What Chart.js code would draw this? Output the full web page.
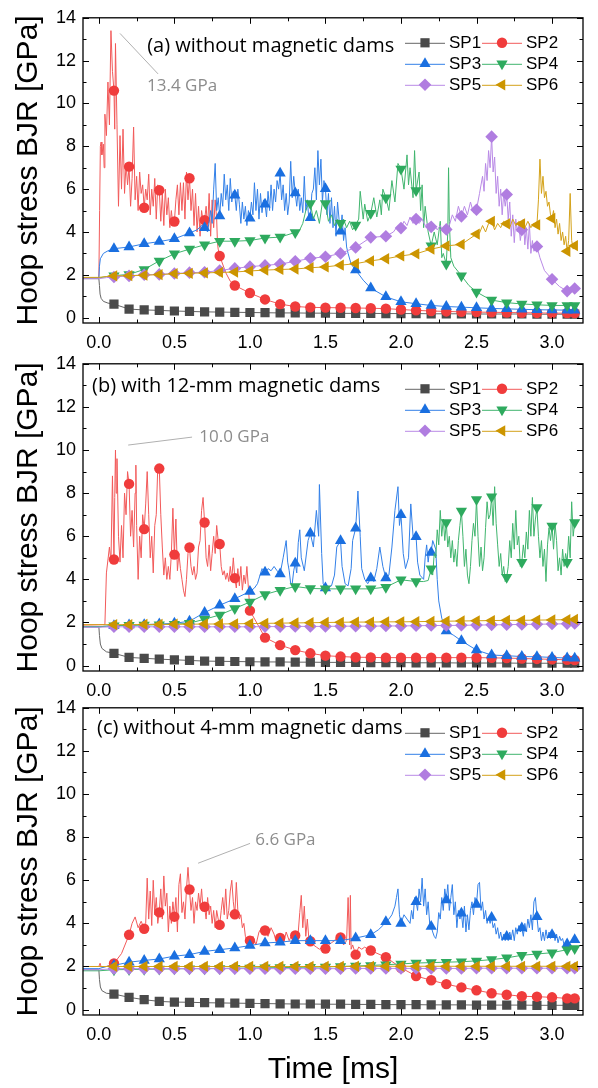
<!DOCTYPE html>
<html>
<head>
<meta charset="utf-8">
<title>Hoop stress BJR</title>
<script src="https://cdn.jsdelivr.net/npm/chart.js@4.4.1/dist/chart.umd.min.js"></script>
<style>
  body { margin: 0; background: #fff; }
  .panel { position: absolute; left: 0; width: 598px; }
</style>
</head>
<body>
<div class="panel" style="top:0;height:350px"><canvas id="chartA"></canvas></div>
<div class="panel" style="top:346px;height:352px"><canvas id="chartB"></canvas></div>
<div class="panel" style="top:690px;height:398px"><canvas id="chartC"></canvas></div>
<script>
// ---- data (time in ms, stress in GPa) ----
const seriesNames = ['SP1', 'SP2', 'SP3', 'SP4', 'SP5', 'SP6'];
const xMajorTicks = [0, 0.5, 1.0, 1.5, 2.0, 2.5, 3.0];
const xMinorTicks = [0.25, 0.75, 1.25, 1.75, 2.25, 2.75];
const yMajorTicks = [0, 2, 4, 6, 8, 10, 12, 14];
const yMinorTicks = [1, 3, 5, 7, 9, 11, 13];
const markTimes = [0.1, 0.2, 0.3, 0.4, 0.5, 0.6, 0.7, 0.8, 0.9, 1.0, 1.1, 1.2, 1.3, 1.4, 1.5, 1.6,
  1.7, 1.8, 1.9, 2.0, 2.1, 2.2, 2.3, 2.4, 2.5, 2.6, 2.7, 2.8, 2.9, 3.0, 3.1, 3.15];

// (a) without magnetic dams: symbol values at markTimes
const aMarks1 = [0.63, 0.40, 0.36, 0.34, 0.31, 0.29, 0.27, 0.26, 0.25, 0.24, 0.23, 0.22, 0.22, 0.21, 0.21, 0.20,
  0.20, 0.20, 0.19, 0.19, 0.19, 0.18, 0.18, 0.18, 0.17, 0.17, 0.17, 0.17, 0.16, 0.16, 0.16, 0.16];
const aMarks2 = [10.6, 7.05, 5.13, 5.95, 4.49, 6.51, 4.55, 2.88, 1.5, 1.15, 0.85, 0.63, 0.52, 0.48, 0.47, 0.46,
  0.45, 0.44, 0.42, 0.38, 0.34, 0.31, 0.29, 0.27, 0.26, 0.25, 0.24, 0.23, 0.22, 0.21, 0.21, 0.21];
const aMarks3 = [3.22, 3.3, 3.45, 3.55, 3.68, 3.95, 4.2, 4.75, 5.72, 4.64, 5.3, 6.74, 5.82, 4.67, 6.02, 4.03,
  2.22, 1.38, 0.97, 0.74, 0.65, 0.57, 0.52, 0.49, 0.46, 0.43, 0.41, 0.39, 0.37, 0.36, 0.35, 0.35];
const aMarks4 = [1.96, 2.02, 2.25, 2.65, 2.98, 3.2, 3.4, 3.57, 3.57, 3.6, 3.72, 3.76, 3.98, 5.33, 5.33, 4.41,
  4.32, 4.87, 5.6, 6.94, 5.94, 3.36, 2.5, 1.96, 1.2, 0.82, 0.7, 0.64, 0.6, 0.57, 0.57, 0.57];
const aMarks5 = [1.9, 1.95, 2.0, 2.02, 2.06, 2.1, 2.12, 2.2, 2.3, 2.38, 2.44, 2.5, 2.63, 2.77, 2.84, 3.0,
  3.28, 3.75, 3.8, 4.18, 4.6, 4.24, 4.12, 4.73, 5.04, 8.45, 5.75, 4.1, 3.32, 1.79, 1.24, 1.36];
const aMarks6 = [1.95, 1.96, 1.98, 2.01, 2.05, 2.07, 2.09, 2.11, 2.13, 2.18, 2.22, 2.25, 2.27, 2.33, 2.37, 2.45,
  2.52, 2.65, 2.75, 2.88, 2.98, 3.2, 3.35, 3.42, 3.9, 4.5, 4.38, 4.38, 4.33, 4.63, 3.1, 3.36];
// (a) recorded traces between symbols: time, value, time, value, ...
const aTrace1 = [-0.105, 1.82, 0, 1.82, 0.004, 1.5, 0.008, 1.1, 0.015, 0.9, 0.03, 0.76, 0.06, 0.68];
const aTrace2 = [-0.105, 1.85, 0, 1.85, 0.005, 5.0, 0.01, 8.0, 0.015, 8.2, 0.02, 7.6, 0.03, 8.1, 0.035, 7.0,
  0.04, 9.5, 0.05, 8.5, 0.06, 11.0, 0.07, 9.0, 0.08, 13.4, 0.09, 11.5, 0.105, 8.8, 0.11, 12.8, 0.12, 9.0,
  0.13, 5.2, 0.14, 8.5, 0.15, 6.0, 0.16, 8.8, 0.17, 5.8, 0.18, 7.2, 0.19, 6.2, 0.21, 5.2, 0.22, 6.5, 0.23, 8.9,
  0.24, 5.5, 0.25, 6.6, 0.26, 5.0, 0.27, 6.8, 0.28, 5.8, 0.29, 6.2, 0.31, 6.0, 0.32, 5.5, 0.33, 6.7, 0.34, 4.8,
  0.35, 6.0, 0.36, 5.2, 0.37, 6.5, 0.38, 4.6, 0.39, 6.2, 0.41, 4.5, 0.42, 5.8, 0.43, 4.3, 0.44, 6.0, 0.45, 4.8,
  0.46, 5.6, 0.47, 4.2, 0.48, 5.0, 0.49, 4.3, 0.51, 5.5, 0.52, 6.2, 0.53, 4.8, 0.54, 6.3, 0.55, 5.0, 0.56, 6.3,
  0.57, 4.6, 0.58, 6.8, 0.59, 5.5, 0.61, 5.0, 0.62, 6.0, 0.63, 4.3, 0.64, 5.8, 0.65, 4.0, 0.66, 5.2, 0.67, 3.8,
  0.68, 5.0, 0.69, 4.5, 0.71, 5.2, 0.72, 4.2, 0.73, 5.8, 0.74, 3.8, 0.75, 5.5, 0.76, 4.2, 0.77, 5.5, 0.78, 4.6,
  0.785, 3.5, 0.79, 3.2, 0.84, 2.1, 0.87, 1.7];
const aTrace3 = [-0.105, 1.85, 0, 1.85, 0.004, 2.4, 0.01, 2.75, 0.03, 3.0, 0.06, 3.12, 0.65, 4.1, 0.68, 4.3,
  0.72, 4.0, 0.74, 5.0, 0.75, 4.4, 0.76, 6.0, 0.77, 7.2, 0.78, 5.0, 0.79, 5.6, 0.81, 5.8, 0.82, 5.2, 0.83, 6.7,
  0.84, 5.5, 0.85, 6.2, 0.86, 5.0, 0.87, 6.5, 0.88, 5.4, 0.89, 5.9, 0.91, 5.0, 0.92, 6.0, 0.93, 5.3, 0.94, 4.4,
  0.95, 5.4, 0.96, 4.6, 0.97, 5.2, 0.98, 4.3, 0.99, 5.0, 1.01, 5.4, 1.02, 4.8, 1.03, 6.3, 1.04, 5.0, 1.05, 6.0,
  1.06, 4.6, 1.07, 5.8, 1.08, 4.9, 1.09, 5.5, 1.11, 4.7, 1.12, 5.9, 1.13, 5.0, 1.14, 6.2, 1.15, 5.0, 1.16, 6.0,
  1.17, 5.4, 1.18, 6.4, 1.19, 6.0, 1.21, 5.5, 1.22, 6.2, 1.23, 5.0, 1.24, 5.8, 1.25, 4.8, 1.26, 5.4, 1.27, 7.3,
  1.28, 5.6, 1.29, 6.6, 1.31, 5.2, 1.32, 6.0, 1.33, 5.0, 1.34, 5.6, 1.35, 4.9, 1.36, 6.6, 1.37, 5.0, 1.38, 5.5,
  1.39, 4.6, 1.41, 5.8, 1.42, 6.0, 1.43, 7.0, 1.44, 5.5, 1.45, 7.8, 1.46, 6.2, 1.47, 7.4, 1.48, 5.4, 1.49, 6.4,
  1.51, 4.8, 1.52, 5.8, 1.53, 4.4, 1.54, 5.6, 1.55, 4.2, 1.56, 5.2, 1.57, 3.8, 1.58, 5.4, 1.59, 4.6, 1.61, 4.8,
  1.62, 3.6, 1.63, 4.2, 1.64, 3.3, 1.65, 3.0, 1.67, 2.5, 1.75, 1.75];
const aTrace4 = [-0.105, 1.85, 0, 1.85, 0.05, 1.92, 1.33, 4.1, 1.35, 4.4, 1.37, 5.0, 1.38, 5.2, 1.42, 4.6,
  1.44, 5.0, 1.46, 4.4, 1.48, 5.4, 1.52, 4.5, 1.54, 4.8, 1.56, 4.3, 1.58, 4.6, 1.62, 4.6, 1.64, 4.2, 1.66, 4.5,
  1.68, 4.1, 1.72, 4.6, 1.73, 5.9, 1.75, 4.6, 1.76, 5.3, 1.78, 4.5, 1.82, 5.6, 1.84, 4.7, 1.86, 5.5, 1.87, 4.8,
  1.88, 6.0, 1.92, 5.0, 1.94, 6.4, 1.96, 5.4, 1.98, 7.2, 2.02, 6.0, 2.04, 7.6, 2.05, 6.2, 2.06, 7.0, 2.08, 5.6,
  2.09, 7.8, 2.12, 6.8, 2.13, 5.0, 2.14, 6.2, 2.15, 4.2, 2.16, 5.2, 2.18, 4.0, 2.22, 4.0, 2.24, 3.4, 2.26, 4.5,
  2.27, 2.8, 2.28, 3.0, 2.31, 4.0, 2.315, 7.0, 2.32, 4.5, 2.33, 2.8, 2.35, 2.4, 2.45, 1.5, 2.55, 1.0];
const aTrace5 = [-0.105, 1.82, 0, 1.82, 0.05, 1.87, 1.95, 4.0, 1.98, 4.3, 2.02, 4.5, 2.04, 4.3, 2.06, 4.7,
  2.08, 4.4, 2.12, 4.4, 2.14, 4.6, 2.16, 4.3, 2.18, 4.4, 2.22, 4.3, 2.24, 4.1, 2.26, 4.3, 2.28, 4.0, 2.32, 4.3,
  2.34, 4.8, 2.36, 4.5, 2.38, 5.2, 2.42, 5.2, 2.44, 4.8, 2.46, 5.4, 2.48, 4.9, 2.52, 5.8, 2.54, 6.6, 2.55, 5.9,
  2.56, 7.2, 2.57, 6.4, 2.58, 7.8, 2.59, 7.0, 2.61, 6.8, 2.62, 7.5, 2.63, 5.8, 2.64, 6.6, 2.65, 5.2, 2.66, 6.0,
  2.67, 4.8, 2.68, 5.8, 2.69, 5.2, 2.71, 4.6, 2.72, 5.4, 2.73, 3.8, 2.74, 4.8, 2.75, 3.5, 2.76, 4.6, 2.77, 4.0,
  2.78, 4.4, 2.79, 3.6, 2.81, 4.6, 2.82, 3.4, 2.83, 4.2, 2.84, 3.2, 2.85, 4.4, 2.86, 3.0, 2.87, 3.6, 2.88, 3.1,
  2.92, 2.8, 2.95, 2.2, 3.05, 1.45];
const aTrace6 = [-0.105, 1.88, 0, 1.88, 0.05, 1.92, 2.52, 3.95, 2.54, 4.3, 2.56, 4.0, 2.58, 4.4, 2.62, 4.1,
  2.64, 4.4, 2.66, 4.2, 2.68, 4.5, 2.72, 4.2, 2.74, 4.6, 2.76, 4.3, 2.78, 4.5, 2.82, 4.2, 2.84, 4.5, 2.86, 4.2,
  2.88, 4.4, 2.91, 5.5, 2.92, 7.4, 2.93, 5.8, 2.94, 6.6, 2.95, 5.6, 2.96, 5.9, 2.97, 5.2, 2.98, 5.4, 2.99, 4.8,
  3.01, 5.0, 3.02, 4.2, 3.03, 4.6, 3.04, 3.9, 3.05, 4.4, 3.06, 3.6, 3.07, 4.0, 3.08, 3.4, 3.09, 3.8, 3.11, 3.6,
  3.12, 5.8, 3.13, 3.6, 3.14, 3.2];

// (b) with 12-mm magnetic dams
const bMarks1 = [0.57, 0.38, 0.34, 0.30, 0.27, 0.24, 0.21, 0.20, 0.19, 0.18, 0.17, 0.17, 0.16, 0.16, 0.15, 0.15,
  0.15, 0.14, 0.14, 0.14, 0.13, 0.13, 0.13, 0.12, 0.12, 0.12, 0.12, 0.11, 0.11, 0.11, 0.11, 0.11];
const bMarks2 = [4.92, 8.43, 6.33, 9.14, 5.15, 5.48, 6.64, 5.64, 4.06, 2.55, 1.3, 0.95, 0.72, 0.57, 0.46, 0.42,
  0.39, 0.38, 0.37, 0.37, 0.37, 0.37, 0.37, 0.37, 0.37, 0.36, 0.35, 0.33, 0.31, 0.29, 0.27, 0.26];
const bMarks3 = [1.85, 1.88, 1.9, 1.93, 1.96, 2.06, 2.46, 2.8, 3.1, 3.44, 4.33, 4.25, 4.75, 6.14, 3.6, 5.79,
  6.37, 4.06, 4.06, 7.0, 5.98, 5.25, 1.6, 1.15, 0.72, 0.49, 0.46, 0.42, 0.41, 0.38, 0.35, 0.34];
const bMarks4 = [1.85, 1.87, 1.88, 1.9, 1.92, 1.97, 2.15, 2.35, 2.65, 2.95, 3.3, 3.5, 3.67, 3.58, 3.56, 3.56,
  3.56, 3.56, 3.64, 3.98, 3.9, 4.49, 6.64, 7.17, 7.71, 7.83, 4.1, 4.79, 7.33, 6.48, 4.79, 6.64];
const bMarks5 = [1.8, 1.8, 1.8, 1.8, 1.8, 1.8, 1.8, 1.8, 1.8, 1.8, 1.81, 1.81, 1.82, 1.82, 1.82, 1.83,
  1.83, 1.83, 1.84, 1.84, 1.85, 1.86, 1.86, 1.87, 1.88, 1.89, 1.9, 1.91, 1.92, 1.93, 1.94, 1.95];
const bMarks6 = [1.9, 1.9, 1.91, 1.91, 1.92, 1.92, 1.93, 1.93, 1.94, 1.95, 1.96, 1.97, 1.98, 1.99, 2.0, 2.01,
  2.02, 2.02, 2.03, 2.03, 2.04, 2.05, 2.06, 2.07, 2.08, 2.09, 2.1, 2.1, 2.11, 2.12, 2.13, 2.14];
const bTrace1 = [-0.105, 1.8, 0, 1.8, 0.004, 1.4, 0.01, 1.0, 0.02, 0.8, 0.05, 0.64];
const bTrace2 = [-0.105, 1.88, 0.04, 1.9, 0.05, 4.3, 0.06, 4.9, 0.07, 5.5, 0.08, 4.8, 0.09, 8.8, 0.105, 7.8,
  0.11, 10.0, 0.115, 8.0, 0.12, 9.6, 0.13, 6.0, 0.14, 4.8, 0.15, 6.5, 0.16, 5.0, 0.17, 8.0, 0.18, 7.0, 0.19, 9.0,
  0.21, 6.0, 0.22, 7.2, 0.23, 5.5, 0.24, 8.0, 0.245, 9.3, 0.25, 6.5, 0.26, 4.0, 0.27, 6.0, 0.28, 5.0, 0.29, 7.0,
  0.31, 7.5, 0.32, 9.0, 0.33, 7.0, 0.34, 5.0, 0.35, 6.0, 0.36, 4.3, 0.37, 6.5, 0.38, 7.0, 0.39, 9.2, 0.41, 7.0,
  0.42, 5.5, 0.43, 4.2, 0.44, 5.0, 0.45, 4.0, 0.46, 4.6, 0.47, 4.0, 0.48, 5.2, 0.49, 7.3, 0.51, 6.8, 0.52, 4.4,
  0.53, 5.2, 0.54, 4.5, 0.55, 4.0, 0.56, 3.5, 0.57, 3.2, 0.58, 4.0, 0.59, 5.2, 0.61, 4.6, 0.62, 4.2, 0.63, 4.6,
  0.64, 4.0, 0.65, 4.3, 0.66, 5.5, 0.67, 5.8, 0.68, 7.2, 0.69, 7.8, 0.71, 5.0, 0.72, 4.6, 0.73, 5.6, 0.74, 4.4,
  0.75, 5.2, 0.76, 6.0, 0.77, 5.2, 0.78, 6.5, 0.79, 5.8, 0.81, 4.6, 0.82, 4.2, 0.83, 4.4, 0.84, 4.0, 0.85, 4.3,
  0.86, 3.9, 0.87, 4.6, 0.88, 4.0, 0.89, 5.0, 0.91, 3.6, 0.92, 4.5, 0.93, 3.7, 0.94, 4.6, 0.95, 3.5, 0.96, 4.2,
  0.97, 3.8, 0.98, 4.6, 0.99, 3.6];
const bTrace3 = [-0.105, 1.8, 0, 1.8, 0.05, 1.83, 1.03, 3.6, 1.05, 3.8, 1.08, 4.5, 1.12, 4.5, 1.14, 4.4,
  1.16, 4.6, 1.18, 4.4, 1.22, 5.0, 1.24, 5.8, 1.25, 4.8, 1.26, 4.4, 1.27, 3.8, 1.28, 3.8, 1.29, 4.4, 1.31, 4.3,
  1.32, 5.7, 1.33, 6.3, 1.34, 5.0, 1.36, 4.4, 1.385, 5.8, 1.42, 5.5, 1.44, 7.2, 1.455, 6.0, 1.46, 8.4, 1.475, 5.2,
  1.485, 3.8, 1.52, 3.65, 1.54, 3.7, 1.56, 4.2, 1.575, 5.5, 1.61, 4.6, 1.63, 3.8, 1.65, 3.7, 1.67, 4.5, 1.68, 5.8,
  1.715, 8.1, 1.73, 6.0, 1.74, 4.5, 1.76, 4.0, 1.78, 3.8, 1.82, 3.9, 1.84, 4.5, 1.86, 5.5, 1.88, 4.6, 1.92, 4.2,
  1.94, 5.5, 1.96, 7.2, 1.98, 8.3, 1.99, 6.5, 2.015, 5.2, 2.03, 4.5, 2.05, 5.0, 2.065, 7.5, 2.08, 6.0, 2.11, 4.8,
  2.125, 4.2, 2.15, 4.0, 2.16, 5.0, 2.17, 5.6, 2.18, 4.8, 2.19, 5.4, 2.21, 5.8, 2.23, 5.4, 2.24, 4.0, 2.25, 3.0,
  2.27, 2.2, 2.29, 1.8, 2.325, 1.5, 2.35, 1.4];
const bTrace4 = [-0.105, 1.8, 0, 1.8, 0.05, 1.83, 2.15, 3.9, 2.18, 3.95, 2.21, 4.2, 2.22, 5.2, 2.23, 5.0,
  2.24, 6.3, 2.25, 5.6, 2.26, 7.2, 2.27, 6.0, 2.28, 6.8, 2.29, 5.8, 2.31, 5.5, 2.32, 6.0, 2.33, 5.0, 2.34, 5.8,
  2.35, 4.8, 2.36, 5.4, 2.37, 4.6, 2.38, 5.8, 2.39, 6.5, 2.41, 6.0, 2.42, 4.6, 2.43, 5.4, 2.44, 4.2, 2.45, 3.8,
  2.46, 4.6, 2.47, 5.8, 2.48, 6.6, 2.49, 6.0, 2.51, 6.0, 2.52, 4.6, 2.53, 5.5, 2.54, 4.4, 2.55, 5.0, 2.56, 6.4,
  2.57, 7.6, 2.58, 6.8, 2.59, 7.0, 2.61, 6.5, 2.62, 8.3, 2.63, 6.6, 2.64, 5.6, 2.65, 4.6, 2.66, 5.2, 2.67, 4.2,
  2.68, 4.6, 2.69, 3.9, 2.71, 4.6, 2.72, 5.8, 2.73, 5.0, 2.74, 6.6, 2.75, 5.4, 2.76, 7.2, 2.77, 5.6, 2.78, 6.0,
  2.79, 4.6, 2.81, 5.6, 2.82, 5.0, 2.83, 6.2, 2.84, 5.4, 2.85, 7.2, 2.86, 6.0, 2.87, 7.8, 2.88, 6.0, 2.89, 6.8,
  2.91, 6.0, 2.92, 5.0, 2.93, 5.8, 2.94, 4.6, 2.95, 5.4, 2.96, 3.9, 2.97, 5.6, 2.98, 6.4, 2.99, 5.8, 3.01, 5.4,
  3.02, 6.6, 3.03, 5.8, 3.04, 4.4, 3.05, 5.0, 3.06, 4.2, 3.07, 5.4, 3.08, 4.6, 3.09, 5.2, 3.11, 6.0, 3.12, 5.0,
  3.13, 7.6, 3.14, 6.0];
const bTrace5 = [-0.105, 1.78, 0, 1.78];
const bTrace6 = [-0.105, 1.9, 0, 1.9];

// (c) without 4-mm magnetic dams
const cMarks1 = [0.72, 0.57, 0.46, 0.38, 0.35, 0.34, 0.32, 0.31, 0.3, 0.29, 0.28, 0.27, 0.26, 0.26, 0.25, 0.25,
  0.24, 0.24, 0.23, 0.23, 0.23, 0.22, 0.22, 0.22, 0.21, 0.21, 0.21, 0.21, 0.2, 0.2, 0.2, 0.2];
const cMarks2 = [2.14, 3.47, 3.75, 4.51, 4.31, 5.57, 4.77, 3.93, 4.42, 3.2, 3.67, 3.32, 3.44, 3.17, 2.83, 3.35,
  2.55, 2.74, 2.43, 1.94, 1.56, 1.36, 1.18, 1.03, 0.9, 0.76, 0.69, 0.62, 0.6, 0.57, 0.52, 0.52];
const cMarks3 = [2.05, 2.2, 2.28, 2.35, 2.48, 2.55, 2.7, 2.78, 2.86, 2.97, 3.09, 3.13, 3.2, 3.2, 3.2, 3.2,
  3.32, 3.47, 4.08, 4.0, 5.0, 3.85, 5.08, 4.47, 4.88, 4.27, 3.39, 3.78, 4.31, 3.47, 3.04, 3.24];
const cMarks4 = [1.85, 1.86, 1.87, 1.88, 1.89, 1.9, 1.9, 1.91, 1.92, 1.93, 1.94, 1.95, 1.96, 1.97, 1.98, 2.0,
  2.02, 2.05, 2.08, 2.12, 2.16, 2.18, 2.2, 2.22, 2.26, 2.32, 2.4, 2.52, 2.58, 2.64, 2.78, 2.83];
const cMarks5 = [1.9, 1.9, 1.9, 1.9, 1.9, 1.9, 1.9, 1.9, 1.9, 1.9, 1.9, 1.9, 1.9, 1.9, 1.9, 1.9,
  1.91, 1.91, 1.91, 1.91, 1.91, 1.91, 1.91, 1.91, 1.92, 1.92, 1.92, 1.92, 1.92, 1.92, 1.92, 1.92];
const cMarks6 = [2.0, 2.0, 2.0, 2.0, 2.0, 2.0, 2.0, 2.0, 2.0, 2.0, 2.0, 2.0, 2.0, 2.0, 2.0, 2.0,
  2.01, 2.01, 2.01, 2.01, 2.01, 2.01, 2.01, 2.01, 2.01, 2.01, 2.01, 2.01, 2.01, 2.01, 2.01, 2.01];
const cTrace1 = [-0.105, 1.85, 0, 1.85, 0.004, 1.4, 0.01, 1.05, 0.02, 0.88, 0.05, 0.76];
const cTrace2 = [-0.105, 2.0, 0, 2.0, 0.008, 2.15, 0.015, 1.98, 0.05, 2.0, 0.15, 2.6, 0.22, 4.0, 0.24, 4.3,
  0.26, 3.8, 0.28, 4.1, 0.31, 4.0, 0.32, 6.1, 0.33, 4.2, 0.34, 5.5, 0.35, 3.9, 0.36, 6.0, 0.37, 4.4, 0.38, 5.2,
  0.39, 4.0, 0.41, 5.6, 0.42, 4.2, 0.43, 6.2, 0.44, 4.8, 0.45, 5.4, 0.46, 3.6, 0.47, 4.8, 0.48, 4.0, 0.49, 5.0,
  0.51, 5.2, 0.52, 3.6, 0.53, 5.8, 0.54, 6.3, 0.55, 4.5, 0.56, 5.0, 0.57, 4.2, 0.58, 5.6, 0.59, 6.6, 0.61, 4.6,
  0.62, 5.2, 0.63, 4.0, 0.64, 5.0, 0.65, 4.6, 0.66, 5.4, 0.67, 4.8, 0.68, 5.6, 0.69, 4.6, 0.71, 4.2, 0.72, 5.2,
  0.73, 4.4, 0.74, 4.8, 0.75, 4.0, 0.76, 4.6, 0.77, 3.8, 0.78, 4.6, 0.79, 4.2, 0.81, 4.6, 0.82, 5.2, 0.83, 4.4,
  0.84, 5.6, 0.85, 4.2, 0.86, 4.6, 0.87, 5.5, 0.88, 6.0, 0.89, 5.0, 0.91, 5.9, 0.92, 4.6, 0.93, 4.2, 0.94, 4.4,
  0.95, 3.8, 0.96, 4.0, 0.97, 3.4, 0.98, 3.2, 0.99, 3.0, 1.02, 3.4, 1.04, 3.0, 1.06, 3.6, 1.08, 3.8, 1.12, 3.4,
  1.14, 3.8, 1.16, 3.5, 1.18, 3.0, 1.22, 3.0, 1.24, 3.6, 1.26, 3.2, 1.28, 3.5, 1.32, 3.6, 1.33, 4.5, 1.34, 5.3,
  1.35, 3.8, 1.36, 4.8, 1.37, 3.4, 1.38, 4.2, 1.39, 3.3, 1.42, 3.0, 1.44, 2.9, 1.46, 2.8, 1.48, 2.9, 1.52, 3.0,
  1.54, 3.1, 1.56, 3.2, 1.58, 3.4, 1.62, 3.0, 1.64, 3.2, 1.65, 5.2, 1.66, 3.0, 1.665, 5.3, 1.67, 2.8, 1.68, 3.0,
  1.72, 2.9, 1.74, 2.8, 1.76, 2.9, 1.78, 2.8];
const cTrace3 = [-0.105, 1.9, 0, 1.9, 0.05, 2.0, 1.85, 3.7, 1.88, 3.9, 1.92, 4.2, 1.94, 4.4, 1.96, 4.8,
  1.97, 5.2, 1.98, 5.6, 1.99, 4.4, 2.02, 4.4, 2.04, 4.2, 2.06, 4.0, 2.07, 4.6, 2.08, 4.2, 2.09, 5.2, 2.11, 4.6,
  2.12, 5.6, 2.13, 5.0, 2.14, 6.1, 2.15, 4.8, 2.16, 5.6, 2.17, 4.4, 2.18, 5.0, 2.19, 4.0, 2.21, 3.6, 2.22, 3.4,
  2.23, 3.3, 2.24, 3.6, 2.25, 4.5, 2.26, 4.2, 2.27, 5.2, 2.28, 4.6, 2.29, 5.6, 2.31, 5.8, 2.32, 4.6, 2.33, 5.2,
  2.34, 5.8, 2.35, 4.4, 2.36, 5.0, 2.37, 3.8, 2.38, 4.6, 2.39, 4.2, 2.41, 3.8, 2.42, 4.8, 2.43, 3.6, 2.44, 4.4,
  2.45, 3.7, 2.46, 4.6, 2.47, 5.0, 2.48, 4.4, 2.49, 5.2, 2.51, 5.8, 2.52, 5.9, 2.53, 4.6, 2.54, 5.0, 2.55, 4.2,
  2.56, 4.6, 2.57, 4.0, 2.58, 4.3, 2.59, 4.0, 2.61, 3.8, 2.62, 4.0, 2.63, 3.5, 2.64, 3.8, 2.65, 3.3, 2.66, 3.6,
  2.67, 3.2, 2.68, 3.5, 2.69, 3.2, 2.71, 3.2, 2.72, 3.6, 2.73, 3.3, 2.74, 3.7, 2.75, 3.2, 2.76, 3.8, 2.77, 3.5,
  2.78, 3.9, 2.79, 3.6, 2.81, 3.4, 2.82, 4.0, 2.83, 3.6, 2.84, 4.2, 2.85, 3.8, 2.86, 4.4, 2.87, 3.7, 2.88, 5.0,
  2.89, 5.2, 2.91, 3.6, 2.92, 3.8, 2.93, 3.2, 2.94, 3.6, 2.95, 3.2, 2.96, 3.7, 2.97, 3.3, 2.98, 3.6, 2.99, 3.3,
  3.01, 3.6, 3.02, 3.2, 3.03, 3.5, 3.04, 3.1, 3.05, 3.4, 3.06, 3.2, 3.07, 3.3, 3.08, 3.0, 3.09, 3.1, 3.12, 3.1,
  3.14, 3.2];
const cTrace4 = [-0.105, 1.8, 0, 1.8];
const cTrace5 = [-0.105, 1.85, 0, 1.85];
const cTrace6 = [-0.105, 2.0, 0, 2.0];

// ---- styles ----
const markColors = ['#4a4a4a', '#f03c3c', '#1a6fe0', '#2eaa5e', '#b07de0', '#cc9500'];
const lineColors = ['#666666', '#f25a5a', '#3380e8', '#40b56e', '#b98ae6', '#d4a21a'];
const pointStyles = ['rect', 'circle', 'triangle', 'triangle', 'rectRot', 'triangle'];
const pointRotations = [0, 0, 0, 180, 0, -90];
const pointRadii = [6.5, 5.2, 6.5, 6.5, 6.3, 6.5];
const sansFont = "'Liberation Sans', Arial, sans-serif";
const noteFont = "'Open Sans', sans-serif";

// merge the recorded trace with the symbol points; symbols replace trace points at the same time
function buildSeries(trace, marks) {
  const pts = [];
  for (let i = 0; i < trace.length; i += 2) pts.push({ x: trace[i], y: trace[i + 1], m: false });
  markTimes.forEach((t, i) => {
    const j = pts.findIndex(p => Math.abs(p.x - t) < 1e-6);
    if (j >= 0) pts.splice(j, 1);
    pts.push({ x: t, y: marks[i], m: true });
  });
  return pts.sort((a, b) => a.x - b.x);
}

function drawMark(ctx, i, x, y) {
  ctx.fillStyle = markColors[i];
  if (Chart.helpers && Chart.helpers.drawPoint) {
    Chart.helpers.drawPoint(ctx, { pointStyle: pointStyles[i], rotation: pointRotations[i],
      radius: pointRadii[i], borderWidth: 0 }, x, y);
  } else {
    ctx.beginPath();
    ctx.arc(x, y, 5, 0, Math.PI * 2);
    ctx.fill();
  }
}

// frame with inward ticks, panel label, peak note and the two-column legend
function decorPlugin(cfg) {
  return {
    id: 'panelDecor',
    afterDraw(chart) {
      const { ctx, chartArea: a, scales: { x, y } } = chart;
      ctx.save();
      ctx.strokeStyle = '#000';
      ctx.lineWidth = 1;
      ctx.beginPath();
      const xTick = (v, len) => {
        const px = Math.round(x.getPixelForValue(v)) + 0.5;
        ctx.moveTo(px, a.bottom); ctx.lineTo(px, a.bottom - len);
        ctx.moveTo(px, a.top); ctx.lineTo(px, a.top + len);
      };
      const yTick = (v, len) => {
        const py = Math.round(y.getPixelForValue(v)) + 0.5;
        ctx.moveTo(a.left, py); ctx.lineTo(a.left + len, py);
        ctx.moveTo(a.right, py); ctx.lineTo(a.right - len, py);
      };
      xMajorTicks.forEach(v => xTick(v, 6));
      xMinorTicks.forEach(v => xTick(v, 3.5));
      yMajorTicks.forEach(v => yTick(v, 6));
      yMinorTicks.forEach(v => yTick(v, 3.5));
      ctx.stroke();
      ctx.lineWidth = 1.3;
      ctx.strokeRect(a.left, a.top, a.right - a.left, a.bottom - a.top);

      // panel label
      ctx.fillStyle = '#000';
      ctx.font = '20px ' + noteFont;
      ctx.textAlign = 'left';
      ctx.textBaseline = 'middle';
      ctx.fillText(cfg.label, x.getPixelForValue(cfg.labelAt[0]), y.getPixelForValue(cfg.labelAt[1]));

      // peak note
      const pl = cfg.peakLine;
      ctx.strokeStyle = '#b0b0b0';
      ctx.lineWidth = 1;
      ctx.beginPath();
      ctx.moveTo(x.getPixelForValue(pl[0]), y.getPixelForValue(pl[1]));
      ctx.lineTo(x.getPixelForValue(pl[2]), y.getPixelForValue(pl[3]));
      ctx.stroke();
      ctx.fillStyle = '#8c8c8c';
      ctx.font = '17px ' + noteFont;
      ctx.fillText(cfg.peakText, x.getPixelForValue(cfg.peakTextAt[0]), y.getPixelForValue(cfg.peakTextAt[1]));

      // legend
      ctx.font = '17px ' + sansFont;
      seriesNames.forEach((name, i) => {
        const lx = a.right - 178 + (i % 2) * 77;
        const ly = a.top + 25 + Math.floor(i / 2) * 21;
        ctx.strokeStyle = lineColors[i];
        ctx.lineWidth = 1;
        ctx.beginPath();
        ctx.moveTo(lx, ly + 0.5);
        ctx.lineTo(lx + 40, ly + 0.5);
        ctx.stroke();
        drawMark(ctx, i, lx + 20, ly);
        ctx.fillStyle = '#000';
        ctx.fillText(name, lx + 44, ly + 1);
      });
      ctx.restore();
    }
  };
}

function makePanel(cfg) {
  const datasets = seriesNames.map((name, i) => ({
    label: name,
    data: buildSeries(cfg.traces[i], cfg.marks[i]),
    borderColor: lineColors[i],
    backgroundColor: markColors[i],
    pointBackgroundColor: markColors[i],
    pointBorderWidth: 0,
    pointStyle: pointStyles[i],
    pointRotation: pointRotations[i],
    pointRadius: c => (c.raw && c.raw.m ? pointRadii[i] : 0),
    pointHoverRadius: 0,
    borderWidth: 1,
    tension: 0,
    order: 6 - i
  }));
  const tickFont = { family: sansFont, size: 18 };
  new Chart(document.getElementById(cfg.id), {
    type: 'line',
    data: { datasets },
    options: {
      responsive: true,
      maintainAspectRatio: false,
      animation: false,
      events: [],
      layout: { padding: { top: 13, right: 15, left: 0, bottom: 0 } },
      plugins: { legend: { display: false }, tooltip: { enabled: false } },
      scales: {
        x: {
          type: 'linear', min: -0.105, max: 3.205,
          grid: { display: false, drawTicks: false },
          border: { display: false },
          afterBuildTicks: s => { s.ticks = xMajorTicks.map(v => ({ value: v })); },
          afterFit: s => { s.height = cfg.xHeight; },
          ticks: { color: '#000', font: tickFont, padding: 9, maxRotation: 0, autoSkip: false,
            callback: v => Number(v).toFixed(1) },
          title: { display: cfg.xTitle, text: 'Time [ms]', color: '#000',
            font: { family: sansFont, size: 30 }, padding: 0 }
        },
        y: {
          type: 'linear', min: -0.25, max: 14,
          grid: { display: false, drawTicks: false },
          border: { display: false },
          afterBuildTicks: s => { s.ticks = yMajorTicks.map(v => ({ value: v })); },
          afterFit: s => { s.width = 83; },
          ticks: { color: '#000', font: tickFont, padding: 7, autoSkip: false, callback: v => String(v) },
          title: { display: true, text: 'Hoop stress BJR [GPa]', color: '#000',
            font: { family: sansFont, size: 30 }, padding: { top: 11, bottom: 0 } }
        }
      }
    },
    plugins: [decorPlugin(cfg)]
  });
}

makePanel({
  id: 'chartA', xHeight: 27, xTitle: false,
  traces: [aTrace1, aTrace2, aTrace3, aTrace4, aTrace5, aTrace6],
  marks: [aMarks1, aMarks2, aMarks3, aMarks4, aMarks5, aMarks6],
  label: '(a) without magnetic dams', labelAt: [0.32, 12.67],
  peakText: '13.4 GPa', peakLine: [0.14, 13.27, 0.392, 11.38], peakTextAt: [0.319, 10.79]
});
makePanel({
  id: 'chartB', xHeight: 27, xTitle: false,
  traces: [bTrace1, bTrace2, bTrace3, bTrace4, bTrace5, bTrace6],
  marks: [bMarks1, bMarks2, bMarks3, bMarks4, bMarks5, bMarks6],
  label: '(b) with 12-mm magnetic dams', labelAt: [-0.045, 12.95],
  peakText: '10.0 GPa', peakLine: [0.194, 10.23, 0.617, 10.6], peakTextAt: [0.665, 10.6]
});
makePanel({
  id: 'chartC', xHeight: 73, xTitle: true,
  traces: [cTrace1, cTrace2, cTrace3, cTrace4, cTrace5, cTrace6],
  marks: [cMarks1, cMarks2, cMarks3, cMarks4, cMarks5, cMarks6],
  label: '(c) without 4-mm magnetic dams', labelAt: [-0.012, 13.03],
  peakText: '6.6 GPa', peakLine: [0.657, 6.79, 1.001, 7.71], peakTextAt: [1.035, 7.84]
});
</script>
</body>
</html>
